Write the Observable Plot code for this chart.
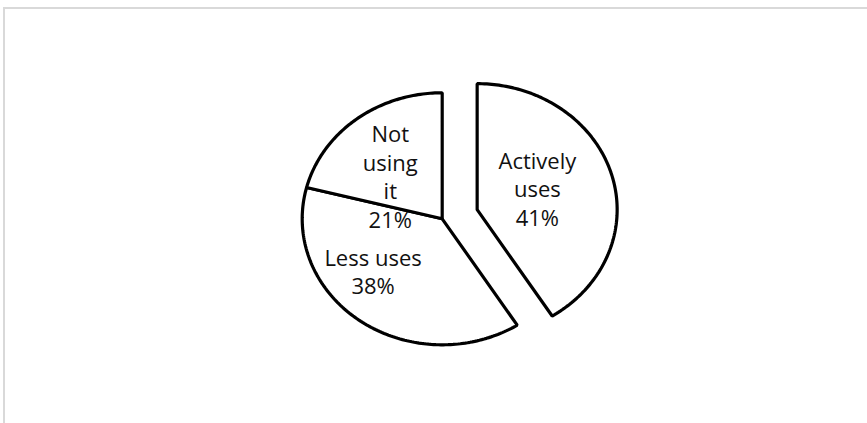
<!DOCTYPE html>
<html>
<head>
<meta charset="utf-8">
<script src="https://cdn.jsdelivr.net/npm/d3@7"></script>
<script src="https://cdn.jsdelivr.net/npm/@observablehq/plot@0.6"></script>
<style>
  html, body { margin: 0; padding: 0; background: #fff; }
  #wrap { position: relative; width: 867px; height: 423px; overflow: hidden; }
  #border { position: absolute; left: 3px; top: 7px; right: -4px; bottom: -4px;
            border-top: 2px solid #d9d9d9; border-left: 2px solid #d9d9d9; }
  #chart { position: absolute; left: 0; top: 0; }
</style>
</head>
<body>
<div id="wrap"><div id="border"></div><div id="chart"></div></div>
<script>
// ---- data ----
const categories = ["Actively uses", "Less uses", "Not using it"];
const shares = [41, 38, 21];
const labelLines = [["Actively", "uses"], ["Less uses"], ["Not", "using", "it"]];
const exploded = ["Actively uses"];

// ---- layout ----
const explodeBy = 0.26;   // fraction of radius
const labelRadius = 0.5;
const arcs = d3.pie().sort(null).value(d => d.value)(
  categories.map((c, i) => ({category: c, value: shares[i], lines: labelLines[i]}))
);

const slicePoints = [];
const labels = [];
for (const a of arcs) {
  const mid = (a.startAngle + a.endAngle) / 2;
  const off = exploded.includes(a.data.category) ? explodeBy : 0;
  const ox = off * Math.sin(mid), oy = off * Math.cos(mid);
  slicePoints.push({category: a.data.category, x: ox, y: oy});
  const n = Math.max(2, Math.ceil((a.endAngle - a.startAngle) / (Math.PI / 180)));
  for (let k = 0; k <= n; k++) {
    const t = a.startAngle + (a.endAngle - a.startAngle) * k / n;
    slicePoints.push({category: a.data.category, x: ox + Math.sin(t), y: oy + Math.cos(t)});
  }
  labels.push({
    category: a.data.category,
    x: ox + labelRadius * Math.sin(mid),
    y: oy + labelRadius * Math.cos(mid),
    text: [...a.data.lines, a.data.value + "%"].join("\n")
  });
}

const cx = 441.7, cy = 218.3, rx = 140, ry = 126;
const textStyle = {
  x: "x", y: "y", text: "text",
  fontFamily: "Open Sans", fontSize: 22, lineHeight: 1.3, fill: "#111"
};
const lab = c => labels.filter(d => d.category === c);

const chart = Plot.plot({
  width: 867,
  height: 423,
  margin: 0,
  x: {domain: [-1, 1], range: [cx - rx, cx + rx], axis: null},
  y: {domain: [-1, 1], range: [cy + ry, cy - ry], axis: null},
  style: {background: "transparent", overflow: "visible"},
  marks: [
    Plot.line(slicePoints, {
      x: "x", y: "y", z: "category", curve: "linear-closed",
      fill: "white", stroke: "black", strokeWidth: 3.2, strokeLinejoin: "miter"
    }),
    Plot.text(lab("Actively uses"), {...textStyle, dx: -7, dy: -4}),
    Plot.text(lab("Less uses"), {...textStyle, dx: -28, dy: 1}),
    Plot.text(lab("Not using it"), {...textStyle, dx: -9, dy: 7})
  ]
});
document.getElementById("chart").appendChild(chart);
</script>
</body>
</html>
